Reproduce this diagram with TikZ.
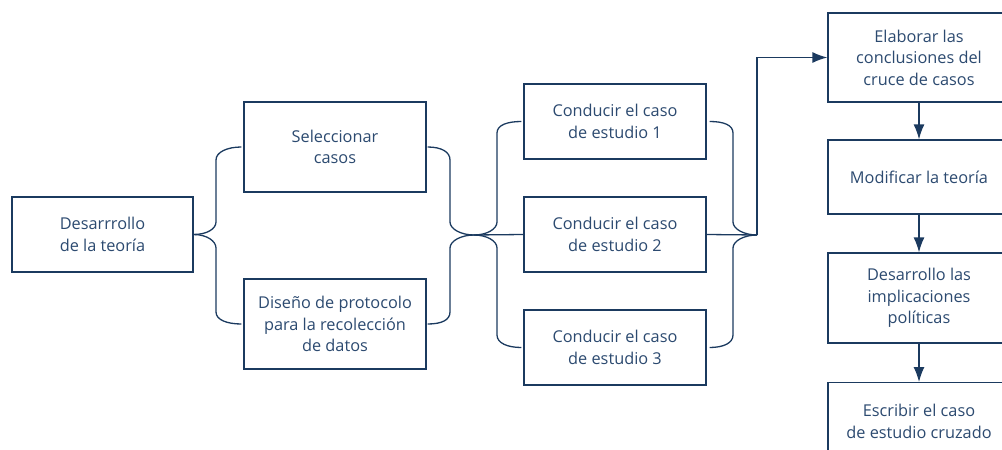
\documentclass[tikz,border=0pt]{standalone}
\usepackage{fontspec}
\setmainfont{Open Sans}
\usetikzlibrary{arrows.meta,calc}
\definecolor{navy}{HTML}{1B3A5F}
\definecolor{txt}{HTML}{2C4A70}
\begin{document}
\begin{tikzpicture}[x=1pt,y=-1pt,
  box/.style={draw=navy,line width=1.3pt,fill=white,align=center,text=txt,
    font=\fontsize{16.3}{21.5}\selectfont,inner sep=0pt},
  br/.style={draw=navy,line width=1.3pt},
  arr/.style={draw=navy,line width=1.3pt,-{Latex[length=15pt,width=11pt]}}]
\useasboundingbox (0,0) rectangle (1002,450);
\clip (0,0) rectangle (1002,450);
\node[box,minimum width=181pt,minimum height=75pt] (n1) at (102.5,234.5) {Desarrrollo\\de la teoría};
\node[box,minimum width=182pt,minimum height=90pt] (sel) at (335,147) {Seleccionar\\casos};
\node[box,minimum width=182pt,minimum height=90pt] (dis) at (335,324) {Diseño de protocolo\\para la recolección\\de datos};
\node[box,minimum width=182pt,minimum height=75pt] (c1) at (615,121.5) {Conducir el caso\\de estudio 1};
\node[box,minimum width=182pt,minimum height=75pt] (c2) at (615,234.5) {Conducir el caso\\de estudio 2};
\node[box,minimum width=182pt,minimum height=75pt] (c3) at (615,347.5) {Conducir el caso\\de estudio 3};
\node[box,minimum width=182pt,minimum height=89pt] (e1) at (919,57.5) {Elaborar las\\conclusiones del\\cruce de casos};
\node[box,minimum width=182pt,minimum height=74pt] (e2) at (919,177) {Modificar la teoría};
\node[box,minimum width=182pt,minimum height=90pt] (e3) at (919,298) {Desarrollo las\\implicaciones\\políticas};
\node[box,minimum width=182pt,minimum height=90pt,anchor=north] (e4) at (919,382) {};
\node[text=txt,font=\fontsize{16.3}{21.5}\selectfont,align=center] (e4t) at (919,421.5) {Escribir el caso\\de estudio cruzado};
\coordinate (tipB) at (474,235);
\coordinate (tipD) at (757,235);
% brace A
\draw[br] (n1.east) .. controls +(13,0) and +(0,7) .. (216,222) -- (216,160) .. controls +(0,-8) and +(-14,0) .. ([xshift=-2pt]sel.west);
\draw[br] (n1.east) .. controls +(13,0) and +(0,-7) .. (216,248) -- (216,312) .. controls +(0,8) and +(-14,0) .. ([xshift=-2pt]dis.west);
% brace B
\draw[br] ([xshift=1pt]sel.east) .. controls +(14,0) and +(0,-8) .. (450,160) -- (450,222) .. controls +(0,7) and +(-13,0) .. (tipB);
\draw[br] ([xshift=1pt]dis.east) .. controls +(14,0) and +(0,8) .. (450,312) -- (450,248) .. controls +(0,-7) and +(-13,0) .. (tipB);
% brace C
\draw[br] (tipB) .. controls +(13,0) and +(0,7) .. (497,222) -- (497,133) .. controls +(0,-8) and +(-14,0) .. ([xshift=-2pt]c1.west);
\draw[br] (tipB) .. controls +(13,0) and +(0,-7) .. (497,248) -- (497,335) .. controls +(0,8) and +(-14,0) .. ([xshift=-2pt]c3.west);
\draw[br] (tipB) -- (c2.west);
% brace D
\draw[br] ([xshift=3pt]c1.east) .. controls +(14,0) and +(0,-8) .. (733,133) -- (733,222) .. controls +(0,7) and +(-13,0) .. (tipD);
\draw[br] ([xshift=3pt]c3.east) .. controls +(14,0) and +(0,8) .. (733,335) -- (733,248) .. controls +(0,-7) and +(-13,0) .. (tipD);
\draw[br] (c2.east) -- (tipD);
\draw[arr] (tipD) |- (e1.west);
\draw[arr] (e1) -- (e2);
\draw[arr] (e2) -- (e3);
\draw[arr] (e3) -- (e4);
\end{tikzpicture}
\end{document}
